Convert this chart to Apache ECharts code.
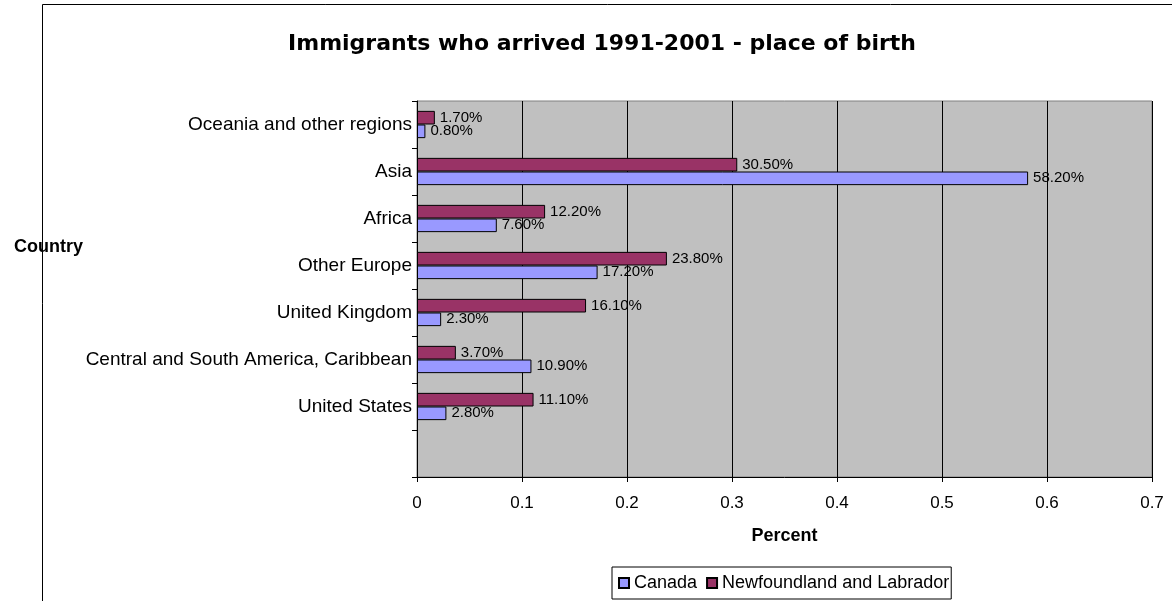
<!DOCTYPE html>
<html>
<head>
<meta charset="utf-8">
<script src="https://cdn.jsdelivr.net/npm/echarts@6/dist/echarts.min.js"></script>
<style>
  html, body { margin: 0; padding: 0; background: #ffffff; }
  #chart { width: 1172px; height: 601px; }
</style>
</head>
<body>
<div id="chart"></div>
<script>
// Place of birth, bottom to top (the first slot is left empty)
const categories = [
  '',
  'United States',
  'Central and South America, Caribbean',
  'United Kingdom',
  'Other Europe',
  'Africa',
  'Asia',
  'Oceania and other regions'
];
// Share of immigrants who arrived 1991-2001
const canada = [null, 0.028, 0.109, 0.023, 0.172, 0.076, 0.582, 0.008];
const newfoundland = [null, 0.111, 0.037, 0.161, 0.238, 0.122, 0.305, 0.017];
const xTicks = [0, 0.1, 0.2, 0.3, 0.4, 0.5, 0.6, 0.7];

const FONT = 'Liberation Sans, Arial, sans-serif';

const chart = echarts.init(document.getElementById('chart'), null, { renderer: 'canvas' });

const pctLabel = {
  show: true,
  position: 'right',
  distance: 5,
  color: '#000',
  fontFamily: FONT,
  fontSize: 15,
  formatter: p => (p.value * 100).toFixed(2) + '%'
};

const barCommon = {
  type: 'bar',
  barGap: '0%',
  barCategoryGap: '42%',
  label: pctLabel
};

chart.setOption({
  animation: false,
  backgroundColor: '#ffffff',
  title: {
    text: 'Immigrants who arrived 1991-2001 - place of birth',
    left: 597,
    textAlign: 'center',
    top: 28,
    textStyle: { fontFamily: 'DejaVu Sans, sans-serif', fontSize: 22, fontWeight: 'bold', color: '#000' }
  },
  graphic: [
    {
      type: 'rect',
      shape: { x: 42.5, y: 4.5, width: 1200, height: 700 },
      style: { fill: 'none', stroke: '#000', lineWidth: 1 },
      z: 100,
      silent: true
    },
    {
      type: 'text',
      left: 14,
      top: 238,
      style: { text: 'Country', font: 'bold 18px ' + FONT, fill: '#000' },
      z: 101
    }
  ],
  legend: {
    data: ['Canada', 'Newfoundland and Labrador'],
    left: 612,
    top: 567,
    orient: 'horizontal',
    icon: 'rect',
    itemWidth: 10,
    itemHeight: 10,
    itemGap: 9,
    padding: [7, 2, 7, 6],
    borderColor: '#000',
    borderWidth: 1,
    textStyle: { fontFamily: FONT, fontSize: 18, color: '#000' }
  },
  grid: {
    left: 417,
    right: 20,
    top: 101,
    bottom: 124,
    show: true,
    backgroundColor: '#c0c0c0',
    borderColor: '#808080',
    borderWidth: 1
  },
  xAxis: {
    type: 'value',
    min: xTicks[0],
    max: xTicks[xTicks.length - 1],
    interval: 0.1,
    name: 'Percent',
    nameLocation: 'middle',
    nameGap: 50,
    nameTextStyle: { fontFamily: FONT, fontSize: 18, fontWeight: 'bold', color: '#000' },
    axisLine: { show: true, lineStyle: { color: '#000', width: 1 } },
    axisTick: { show: true, length: 5, lineStyle: { color: '#000' } },
    axisLabel: {
      color: '#000',
      fontFamily: FONT,
      fontSize: 17,
      margin: 18,
      formatter: v => String(Number(v.toFixed(1)))
    },
    splitLine: { show: true, lineStyle: { color: '#000', width: 1 } }
  },
  yAxis: {
    type: 'category',
    data: categories,
    axisLine: { show: true, lineStyle: { color: '#000', width: 1 } },
    axisTick: { show: true, length: 5, lineStyle: { color: '#000' } },
    axisLabel: { color: '#000', fontFamily: FONT, fontSize: 19, margin: 5 },
    splitLine: { show: false }
  },
  // Newfoundland and Labrador is listed first so its bar sits above Canada's
  series: [
    Object.assign({}, barCommon, {
      name: 'Newfoundland and Labrador',
      data: newfoundland,
      itemStyle: { color: '#993366', borderColor: '#000', borderWidth: 1 }
    }),
    Object.assign({}, barCommon, {
      name: 'Canada',
      data: canada,
      itemStyle: { color: '#9999ff', borderColor: '#000', borderWidth: 1 }
    })
  ]
});
</script>
</body>
</html>
